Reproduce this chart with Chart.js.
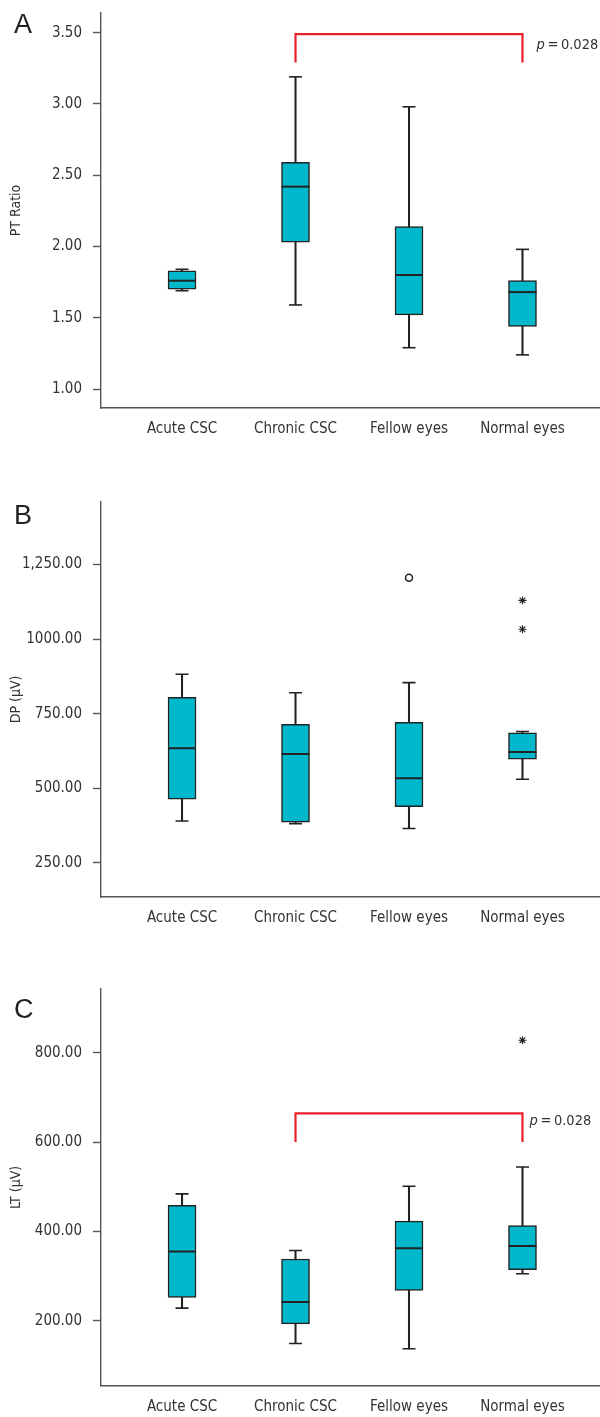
<!DOCTYPE html>
<html><head><meta charset="utf-8">
<script src="https://cdn.jsdelivr.net/npm/chart.js@4"></script>
<style>
html,body{margin:0;padding:0;background:#fff;}
body{width:600px;height:1417px;position:relative;overflow:hidden;}
.panel{position:absolute;left:0;width:600px;}
.letter{position:absolute;font-family:'Liberation Sans',Arial,sans-serif;font-size:27px;color:#222;line-height:1;}
</style></head><body>
<div class="panel" style="top:0;height:445px"><canvas id="cA" width="600" height="445"></canvas></div>
<div class="panel" style="top:480px;height:460px"><canvas id="cB" width="600" height="460"></canvas></div>
<div class="panel" style="top:960px;height:457px"><canvas id="cC" width="600" height="457"></canvas></div>
<div class="letter" style="left:14px;top:11px">A</div>
<div class="letter" style="left:14px;top:502px">B</div>
<div class="letter" style="left:14px;top:996px">C</div>
<script>
const categories = ['Acute CSC', 'Chronic CSC', 'Fellow eyes', 'Normal eyes'];

// Panel A: PT Ratio
const ptMin = [1.69, 1.59, 1.29, 1.24];
const ptQ1  = [1.70, 2.03, 1.52, 1.44];
const ptMed = [1.76, 2.42, 1.80, 1.68];
const ptQ3  = [1.83, 2.59, 2.14, 1.76];
const ptMax = [1.84, 3.19, 2.98, 1.98];
const ptTicks = [1.00, 1.50, 2.00, 2.50, 3.00, 3.50];
const ptTickLabels = ['1.00', '1.50', '2.00', '2.50', '3.00', '3.50'];
const ptCircles = [];
const ptStars = [];
const ptBracket = {from: 1, to: 3, top: 3.49, leg: 3.29, label: '0.028', labelY: 3.41};

// Panel B: DP (μV)
const dpMin = [390, 381, 365, 530];
const dpQ1  = [463, 386, 438, 597];
const dpMed = [634, 615, 533, 621];
const dpQ3  = [805, 714, 721, 686];
const dpMax = [882, 820, 854, 690];
const dpTicks = [250, 500, 750, 1000, 1250];
const dpTickLabels = ['250.00', '500.00', '750.00', '1000.00', '1,250.00'];
const dpCircles = [{cat: 2, v: 1206}];
const dpStars = [{cat: 3, v: 1130}, {cat: 3, v: 1033}];

// Panel C: LT (μV)
const ltMin = [228, 149, 137, 305];
const ltQ1  = [252, 193, 268, 314];
const ltMed = [355, 242, 362, 367];
const ltQ3  = [458, 338, 423, 413];
const ltMax = [484, 357, 501, 544];
const ltTicks = [200, 400, 600, 800];
const ltTickLabels = ['200.00', '400.00', '600.00', '800.00'];
const ltCircles = [];
const ltStars = [{cat: 3, v: 828}];
const ltBracket = {from: 1, to: 3, top: 664, leg: 600, label: '0.028', labelY: 646};

const FONT = "'DejaVu Sans Condensed','DejaVu Sans',sans-serif";
const TEXT = '#333';
const AXIS = '#555';
const BOXFILL = '#00B8CC';
const DARK = '#222';
const RED = '#E8202A';

const pPlugin = {
  id: 'pAnno',
  afterDatasetsDraw(chart, args, opts) {
    if (!opts || !opts.bracket) return;
    const b = opts.bracket;
    const xs = chart.scales.x, ys = chart.scales.y;
    const ctx = chart.ctx;
    const x0 = xs.getPixelForValue(b.to) + opts.dx;
    const y0 = ys.getPixelForValue(b.labelY);
    ctx.save();
    ctx.fillStyle = TEXT;
    ctx.textBaseline = 'middle';
    ctx.textAlign = 'left';
    ctx.font = 'italic 14.5px ' + FONT;
    ctx.fillText('p', x0, y0);
    const w = ctx.measureText('p').width;
    ctx.font = '14.5px ' + FONT;
    ctx.fillText('\u2009=\u2009' + b.label, x0 + w, y0);
    ctx.restore();
  }
};

function makeChart(id, o) {
  const idx = categories.map((c, i) => i);
  const datasets = [
    {type: 'bar', label: 'whisker', data: idx.map(i => ({x: i, y: [o.min[i], o.max[i]]})),
     backgroundColor: DARK, borderWidth: 0, barThickness: 1.4, grouped: false, order: 6},
    {type: 'bar', label: 'box', data: idx.map(i => ({x: i, y: [o.q1[i], o.q3[i]]})),
     backgroundColor: BOXFILL, borderColor: DARK, borderWidth: 1.5, borderSkipped: false,
     barThickness: 28, grouped: false, order: 5},
    {type: 'scatter', label: 'median', data: idx.map(i => ({x: i, y: o.med[i]})),
     pointStyle: 'line', pointRadius: 14, pointBorderWidth: 2, pointBorderColor: DARK, order: 3},
    {type: 'scatter', label: 'caps', data: idx.map(i => ({x: i, y: o.min[i]})).concat(idx.map(i => ({x: i, y: o.max[i]}))),
     pointStyle: 'line', pointRadius: 6.5, pointBorderWidth: 1.6, pointBorderColor: DARK, order: 3},
    {type: 'scatter', label: 'circles', data: o.circles.map(p => ({x: p.cat, y: p.v})),
     pointStyle: 'circle', pointRadius: 3.5, pointBorderWidth: 1.5, pointBorderColor: DARK, pointBackgroundColor: '#fff', order: 2},
    {type: 'scatter', label: 'stars', data: o.stars.map(p => ({x: p.cat, y: p.v})),
     pointStyle: 'star', pointRadius: 4, pointBorderWidth: 1.1, pointBorderColor: DARK, order: 2}
  ];
  if (o.bracket) {
    const b = o.bracket;
    datasets.push({type: 'line', label: 'bracket',
      data: [{x: b.from, y: b.leg}, {x: b.from, y: b.top}, {x: b.to, y: b.top}, {x: b.to, y: b.leg}],
      borderColor: RED, borderWidth: 2.2, pointRadius: 0, tension: 0, fill: false, order: 1});
  }
  const H = o.height;
  return new Chart(document.getElementById(id), {
    data: {datasets},
    plugins: [pPlugin],
    options: {
      responsive: false, animation: false, events: [],
      layout: {autoPadding: false, padding: {top: o.top, left: 0, right: 0, bottom: 0}},
      plugins: {legend: {display: false}, tooltip: {enabled: false},
                pAnno: {bracket: o.bracket, dx: o.pdx}},
      scales: {
        x: {type: 'linear', min: -0.714, max: 3.683, offset: false, bounds: 'data',
            afterBuildTicks: s => { s.ticks = idx.map(i => ({value: i})); },
            afterFit: s => { s.height = H - o.bottom; s.paddingLeft = 0; s.paddingRight = 0; s.paddingTop = 0; s.paddingBottom = 0; },
            grid: {display: true, offset: false, drawOnChartArea: false, drawTicks: false},
            border: {display: true, color: AXIS, width: 1.4},
            ticks: {color: TEXT, font: {family: FONT, size: 15}, padding: 12,
                    maxRotation: 0, autoSkip: false, callback: v => categories[v]}},
        y: {type: 'linear', min: o.ymin, max: o.ymax,
            afterBuildTicks: s => { s.ticks = o.ticks.map(v => ({value: v})); },
            afterFit: s => { s.width = 101; s.paddingTop = 0; s.paddingBottom = 0; s.paddingLeft = 0; s.paddingRight = 0; },
            grid: {display: true, drawOnChartArea: false, drawTicks: true, tickLength: 8, tickColor: AXIS, tickWidth: 1.4},
            border: {display: true, color: AXIS, width: 1.4},
            title: {display: true, text: o.title, color: TEXT, font: {family: FONT, size: 14}, padding: {top: 8, bottom: 0}},
            ticks: {color: TEXT, font: {family: FONT, size: 15}, padding: 11, autoSkip: false,
                    callback: (v) => { const k = o.ticks.indexOf(v); return k >= 0 ? o.tickLabels[k] : ''; }}}
      }
    }
  });
}

makeChart('cA', {min: ptMin, q1: ptQ1, med: ptMed, q3: ptQ3, max: ptMax, circles: ptCircles, stars: ptStars,
  ticks: ptTicks, tickLabels: ptTickLabels, ymin: 0.867, ymax: 3.638, title: 'PT Ratio',
  bracket: ptBracket, pdx: 14, height: 445, top: 13, bottom: 408});
makeChart('cB', {min: dpMin, q1: dpQ1, med: dpMed, q3: dpQ3, max: dpMax, circles: dpCircles, stars: dpStars,
  ticks: dpTicks, tickLabels: dpTickLabels, ymin: 135, ymax: 1461, title: 'DP (μV)',
  bracket: null, pdx: 0, height: 460, top: 21.7, bottom: 417});
makeChart('cC', {min: ltMin, q1: ltQ1, med: ltMed, q3: ltQ3, max: ltMax, circles: ltCircles, stars: ltStars,
  ticks: ltTicks, tickLabels: ltTickLabels, ymin: 54.4, ymax: 942.6, title: 'LT (μV)',
  bracket: ltBracket, pdx: 7, height: 457, top: 29, bottom: 425.7});
</script>
</body></html>
